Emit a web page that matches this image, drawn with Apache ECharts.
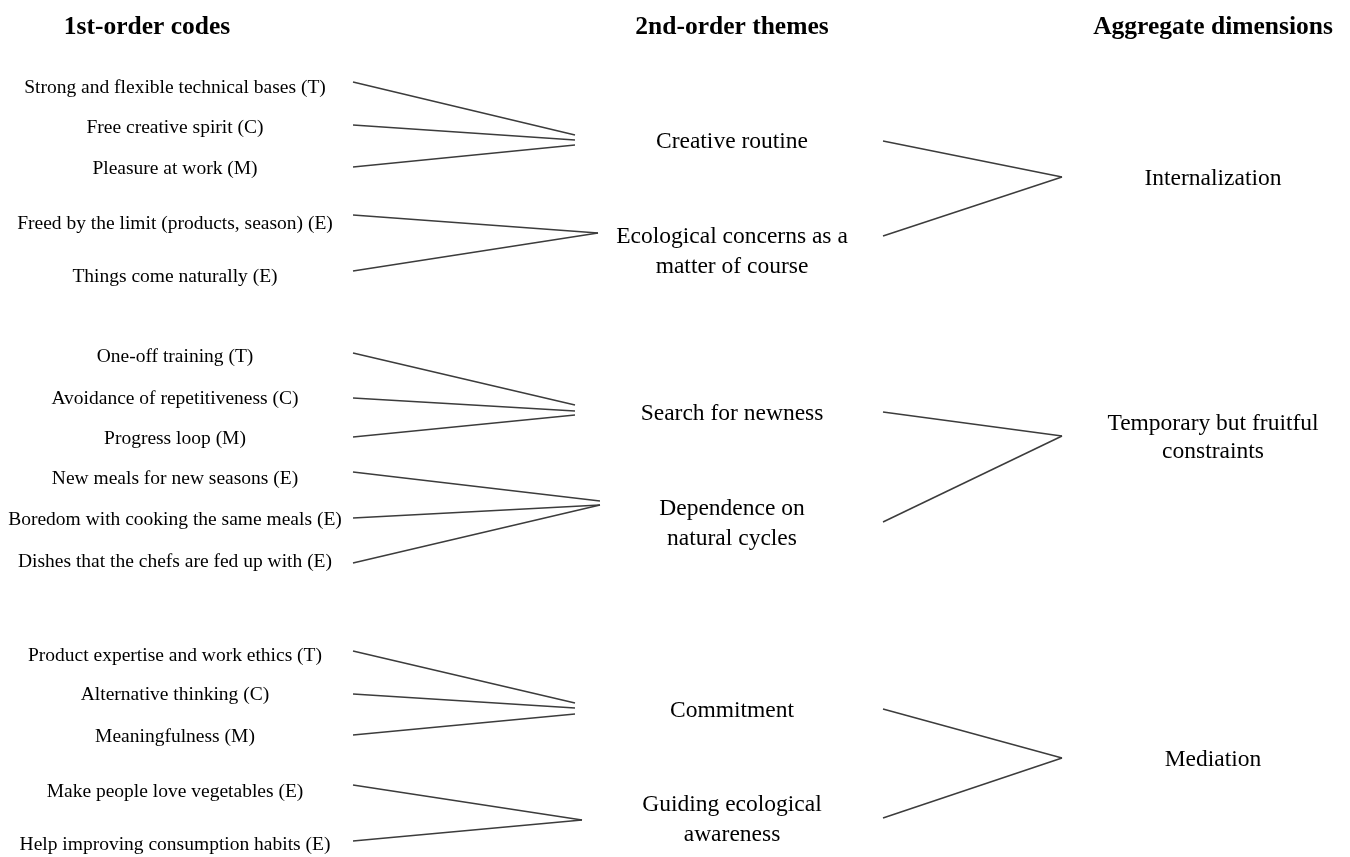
<!DOCTYPE html>
<html>
<head>
<meta charset="utf-8">
<script src="https://cdn.jsdelivr.net/npm/echarts@6/dist/echarts.min.js"></script>
<style>
    html, body { margin: 0; background: #fff; }
    #chart { width: 1350px; height: 857px; }
</style>
</head>
<body>
<div id="chart"></div>
<script>
// column titles
const headers = ['1st-order codes', '2nd-order themes', 'Aggregate dimensions']

// 1st-order codes, and the theme each one feeds
const codes = [
    'Strong and flexible technical bases (T)',
    'Free creative spirit (C)',
    'Pleasure at work (M)',
    'Freed by the limit (products, season) (E)',
    'Things come naturally (E)',
    'One-off training (T)',
    'Avoidance of repetitiveness (C)',
    'Progress loop (M)',
    'New meals for new seasons (E)',
    'Boredom with cooking the same meals (E)',
    'Dishes that the chefs are fed up with (E)',
    'Product expertise and work ethics (T)',
    'Alternative thinking (C)',
    'Meaningfulness (M)',
    'Make people love vegetables (E)',
    'Help improving consumption habits (E)'
]
const codeTheme = [0, 0, 0, 1, 1, 2, 2, 2, 3, 3, 3, 4, 4, 4, 5, 5]

// 2nd-order themes, and the dimension each one feeds
const themes = [
    'Creative routine',
    'Ecological concerns as a\nmatter of course',
    'Search for newness',
    'Dependence on\nnatural cycles',
    'Commitment',
    'Guiding ecological\nawareness'
]
const themeDim = [0, 0, 1, 1, 2, 2]

// aggregate dimensions
const dims = [
    'Internalization',
    'Temporary but fruitful\nconstraints',
    'Mediation'
]

// ---- layout, in pixels of the hidden axes ----
const COL_X = [147, 732, 1213]
const CODE_X = 175
const HEADER_Y = 27
const codeY = [88, 128, 169, 224, 277, 357, 399, 439, 479, 520, 562, 656, 695, 737, 792, 845]
const codeLineY = [82, 125, 167, 215, 271, 353, 398, 437, 472, 518, 563, 651, 694, 735, 785, 841]
const codeLineEndY = [135, 140, 145, 233, 233, 405, 411, 415, 501, 505, 505, 703, 708, 714, 820, 820]
const themeHubX = [575, 598, 575, 600, 575, 582]
const themeY = [142, 252, 414, 524, 711, 820]
const themeLineY = [141, 236, 412, 522, 709, 818]
const dimY = [177, 436, 758]
const dimTextY = [179, 438, 760]
const CODE_LINE_X = 353
const THEME_LINE_X = 883
const DIM_HUB_X = 1062

const FONT = '"Liberation Serif", "DejaVu Serif", serif'
const TEXT_COLOR = '#000'
const LINE_COLOR = '#3c3c3c'

function textSeries(names, xs, ys, fontSize, fontWeight, lineHeight) {
    return {
        type: 'scatter',
        symbolSize: 0,
        silent: true,
        itemStyle: { color: 'transparent' },
        label: {
            show: true,
            position: 'inside',
            align: 'center',
            verticalAlign: 'middle',
            fontFamily: FONT,
            fontSize: fontSize,
            fontWeight: fontWeight,
            lineHeight: lineHeight,
            color: TEXT_COLOR,
            opacity: 1,
            formatter: (p) => p.name
        },
        data: names.map((name, i) => ({ name: name, value: [xs[i], ys[i]] }))
    }
}

const codeLinks = codes.map((c, i) => ({
    coords: [[CODE_LINE_X, codeLineY[i]], [themeHubX[codeTheme[i]], codeLineEndY[i]]]
}))
const themeLinks = themes.map((t, i) => ({
    coords: [[THEME_LINE_X, themeLineY[i]], [DIM_HUB_X, dimY[themeDim[i]]]]
}))

const chart = echarts.init(document.getElementById('chart'))
const option = {
    animation: false,
    backgroundColor: '#fff',
    grid: { left: 0, right: 0, top: 0, bottom: 0 },
    xAxis: { type: 'value', min: 0, max: 1350, show: false },
    yAxis: { type: 'value', min: 0, max: 857, inverse: true, show: false },
    series: [
        {
            type: 'lines',
            coordinateSystem: 'cartesian2d',
            silent: true,
            lineStyle: { color: LINE_COLOR, width: 1.5, opacity: 1, curveness: 0 },
            data: codeLinks.concat(themeLinks)
        },
        textSeries(headers, COL_X, [HEADER_Y, HEADER_Y, HEADER_Y], 25.5, 'bold', 30),
        textSeries(codes, codes.map(() => CODE_X), codeY, 19.5, 'normal', 24),
        textSeries(themes, themes.map(() => COL_X[1]), themeY, 23.5, 'normal', 30),
        textSeries(dims, dims.map(() => COL_X[2]), dimTextY, 23.5, 'normal', 28)
    ]
}
chart.setOption(option)
</script>
</body>
</html>
